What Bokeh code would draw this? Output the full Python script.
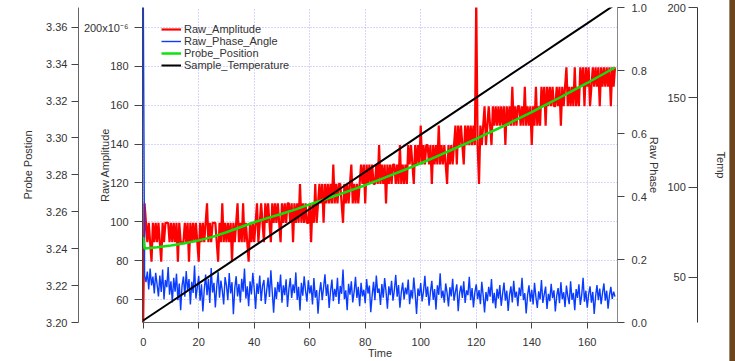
import numpy as np
from bokeh.plotting import figure
from bokeh.models import (Range1d, LinearAxis, FixedTicker, CustomJSTickFormatter,
                          Legend, LegendItem, Div)
from bokeh.layouts import row
from bokeh.embed import file_html
from bokeh.resources import INLINE

# ---------------------------------------------------------------- data
# sampling interval of the lock-in channels (minutes)
sample_step = 0.5

# Raw_Amplitude in units of 1e-6 (quantised read-out, flips between adjacent levels)
raw_amplitude_e6 = [
    48.5, 109.5,
    99.5, 89.5, 99.5, 89.5, 79.5, 99.5, 89.5, 99.5, 89.5, 99.5,
    89.5, 79.5, 99.5, 89.5, 99.5, 99.5, 99.5, 89.5, 99.5, 89.5,
    99.5, 89.5, 99.5, 79.5, 99.5, 89.5, 89.5, 89.5, 99.5, 89.5,
    99.5, 79.5, 99.5, 89.5, 99.5, 89.5, 99.5, 89.5, 79.5, 99.5,
    89.5, 99.5, 89.5, 99.5, 109.5, 89.5, 99.5, 89.5, 99.5, 99.5,
    99.5, 89.5, 79.5, 99.5, 89.5, 109.5, 89.5, 99.5, 89.5, 99.5,
    89.5, 99.5, 79.5, 99.5, 89.5, 99.5, 109.5, 89.5, 99.5, 89.5,
    109.5, 89.5, 99.5, 89.5, 79.5, 99.5, 89.5, 99.5, 89.5,
    99.5, 109.5, 89.5, 99.5, 109.5, 99.5, 89.5, 109.5, 99.5, 109.5, 99.5, 89.5, 109.5,
    99.5, 109.5, 99.5, 109.5, 99.5, 89.5, 109.5, 99.5, 109.5, 99.5,
    109.5, 109.5, 99.5, 109.5, 89.5, 109.5, 99.5, 109.5, 99.5, 119.5,
    99.5, 109.5, 99.5, 109.5, 99.5, 99.5, 109.5, 89.5, 109.5, 99.5,
    119.5, 99.5,
    109.5, 119.5, 109.5, 119.5, 99.5, 119.5, 109.5, 119.5, 109.5, 119.5,
    109.5, 129.5, 109.5, 119.5, 109.5, 119.5, 119.5, 109.5, 99.5, 119.5,
    109.5, 119.5, 109.5, 119.5, 129.5, 109.5, 119.5, 109.5, 119.5, 109.5,
    119.5,
    129.5, 119.5, 129.5, 109.5, 129.5, 119.5, 129.5, 119.5, 129.5, 119.5,
    119.5, 129.5, 119.5, 139.5, 119.5, 129.5, 119.5, 129.5, 109.5, 129.5,
    119.5, 129.5, 119.5, 129.5, 129.5, 119.5, 129.5, 119.5, 139.5, 119.5,
    129.5, 119.5, 129.5, 119.5,
    139.5, 129.5, 139.5, 129.5, 119.5, 139.5, 129.5, 139.5, 129.5, 149.5,
    129.5, 139.5, 129.5, 139.5, 139.5, 129.5, 139.5, 119.5, 139.5, 129.5,
    139.5, 129.5, 149.5, 129.5, 139.5, 129.5, 139.5, 129.5, 119.5, 139.5,
    129.5, 139.5, 129.5, 139.5, 149.5, 129.5,
    149.5, 139.5, 149.5, 139.5, 129.5, 149.5, 139.5, 149.5, 139.5, 149.5,
    139.5, 149.5, 139.5, 215.0, 139.5, 119.5,
    149.5, 139.5, 149.5, 159.5, 139.5, 149.5, 159.5, 149.5, 139.5, 159.5,
    149.5, 159.5, 149.5, 159.5,
    149.5, 159.5, 149.5, 159.5, 139.5, 159.5, 149.5, 159.5, 149.5, 169.5,
    149.5, 159.5, 149.5, 159.5, 159.5, 149.5, 159.5, 149.5, 169.5, 149.5,
    159.5, 149.5, 159.5, 139.5, 159.5, 149.5, 169.5, 149.5, 159.5, 149.5,
    169.5, 159.5, 169.5, 149.5, 169.5, 159.5, 169.5, 159.5, 169.5, 159.5,
    159.5, 169.5, 159.5, 169.5, 149.5, 169.5, 159.5, 169.5, 179.5, 159.5,
    169.5, 159.5, 169.5, 159.5, 179.5, 159.5, 169.5, 159.5,
    179.5, 169.5, 179.5, 159.5, 179.5, 169.5, 179.5, 159.5, 169.5, 179.5,
    169.5, 179.5, 169.5, 179.5, 159.5, 179.5, 169.5, 179.5, 169.5, 179.5,
    169.5, 179.5, 159.5, 179.5, 169.5, 179.5,
]

# Raw_Phase_Angle (same sampling)
raw_phase_angle = [
    1.100, 0.150, 0.128, 0.162, 0.105, 0.171, 0.118, 0.146, 0.092, 0.158,
    0.121, 0.083, 0.149, 0.097, 0.168, 0.074, 0.135, 0.112, 0.176, 0.088,
    0.131, 0.064, 0.142, 0.098, 0.155, 0.071, 0.124, 0.039, 0.117, 0.146,
    0.082, 0.163, 0.101, 0.138, 0.057, 0.129, 0.094, 0.181, 0.076, 0.112,
    0.148, 0.069, 0.121, 0.035, 0.104, 0.152, 0.087, 0.139, 0.062, 0.173,
    0.095, 0.126, 0.048, 0.114, 0.161, 0.079, 0.133, 0.101, 0.057, 0.144,
    0.118, 0.071, 0.157, 0.092, 0.128, 0.026, 0.109, 0.147, 0.083, 0.122,
    0.064, 0.139, 0.098, 0.171, 0.076, 0.115, 0.052, 0.131, 0.089, 0.158,
    0.107, 0.043, 0.124, 0.091, 0.149, 0.068, 0.117, 0.135, 0.059, 0.102,
    0.143, 0.081, 0.166, 0.097, 0.031, 0.112, 0.074, 0.129, 0.096, 0.152,
    0.063, 0.118, 0.087, 0.137, 0.049, 0.106, 0.141, 0.078, 0.121, 0.093,
    0.159, 0.072, 0.113, 0.038, 0.126, 0.085, 0.147, 0.101, 0.066, 0.134,
    0.092, 0.118, 0.057, 0.141, 0.079, 0.103, 0.028, 0.095, 0.128, 0.071,
    0.112, 0.153, 0.084, 0.121, 0.046, 0.099, 0.136, 0.068, 0.107, 0.081,
    0.142, 0.059, 0.116, 0.091, 0.168, 0.074, 0.102, 0.039, 0.123, 0.088,
    0.131, 0.064, 0.097, 0.145, 0.078, 0.113, 0.052, 0.126, 0.083, 0.104,
    0.061, 0.138, 0.092, 0.117, 0.033, 0.086, 0.129, 0.071, 0.149, 0.094,
    0.108, 0.056, 0.122, 0.079, 0.141, 0.098, 0.044, 0.115, 0.087, 0.132,
    0.069, 0.103, 0.151, 0.082, 0.119, 0.047, 0.096, 0.127, 0.073, 0.111,
    0.089, 0.136, 0.058, 0.104, 0.076, 0.143, 0.091, 0.027, 0.108, 0.084,
    0.125, 0.067, 0.099, 0.148, 0.081, 0.114, 0.053, 0.097, 0.132, 0.072,
    0.106, 0.041, 0.118, 0.088, 0.156, 0.077, 0.101, 0.063, 0.124, 0.094,
    0.051, 0.112, 0.083, 0.139, 0.069, 0.098, 0.121, 0.036, 0.093, 0.117,
    0.078, 0.131, 0.062, 0.102, 0.087, 0.145, 0.071, 0.109, 0.048, 0.096,
    0.121, 0.074, 0.103, 0.058, 0.129, 0.086, 0.032, 0.097, 0.068, 0.113,
    0.082, 0.138, 0.061, 0.094, 0.045, 0.107, 0.076, 0.119, 0.053, 0.091,
    0.127, 0.069, 0.101, 0.037, 0.088, 0.115, 0.064, 0.132, 0.079, 0.098,
    0.052, 0.111, 0.084, 0.142, 0.071, 0.093, 0.029, 0.087, 0.118, 0.066,
    0.104, 0.057, 0.126, 0.081, 0.046, 0.099, 0.073, 0.135, 0.062, 0.089,
    0.114, 0.043, 0.091, 0.068, 0.123, 0.077, 0.102, 0.035, 0.085, 0.109,
    0.061, 0.128, 0.074, 0.096, 0.049, 0.117, 0.083, 0.058, 0.131, 0.072,
    0.094, 0.039, 0.106, 0.078, 0.121, 0.056, 0.087, 0.142, 0.066, 0.101,
    0.047, 0.089, 0.115, 0.063, 0.097, 0.027, 0.082, 0.119, 0.071, 0.108,
    0.058, 0.093, 0.124, 0.069, 0.101, 0.044, 0.086, 0.113, 0.075, 0.098,
    0.082,
]

# Probe_Position (slowly sampled)
probe_time = [0, 0.5, 5, 10, 15, 20, 25, 30, 35, 40, 45, 50, 55, 60, 65, 70, 75, 80,
              85, 90, 95, 100, 105, 110, 115, 120, 125, 130, 135, 140, 145, 150, 155,
              160, 165, 170]
probe_position = [3.2463, 3.2401, 3.2408, 3.2417, 3.2429, 3.2445, 3.2464, 3.2489,
                  3.2516, 3.2543, 3.2567, 3.2589, 3.2613, 3.2640, 3.2665, 3.2691,
                  3.2717, 3.2744, 3.2773, 3.2803, 3.2832, 3.2863, 3.2895, 3.2928,
                  3.2961, 3.2995, 3.3031, 3.3066, 3.3103, 3.3140, 3.3179, 3.3218,
                  3.3258, 3.3298, 3.3340, 3.3382]

# Sample_Temperature
temp_time = [0, 10, 20, 30, 40, 50, 60, 70, 80, 90, 100, 110, 120, 130, 140, 150, 160, 170]
sample_temperature = [25.9, 36.2, 46.6, 56.9, 67.3, 77.6, 88.0, 98.3, 108.7, 119.0,
                      129.4, 139.7, 150.0, 160.4, 170.7, 181.1, 191.4, 201.8]

time_ticks = [0, 20, 40, 60, 80, 100, 120, 140, 160]
amp_ticks = [60, 80, 100, 120, 140, 160, 180, 200]
probe_ticks = [3.20, 3.22, 3.24, 3.26, 3.28, 3.30, 3.32, 3.34, 3.36]
phase_ticks = [0.0, 0.2, 0.4, 0.6, 0.8, 1.0]
temp_ticks = [50, 100, 150, 200]

amp_time = np.arange(len(raw_amplitude_e6)) * sample_step
phase_time = np.arange(len(raw_phase_angle)) * sample_step

# ---------------------------------------------------------------- styling
FONT = "Liberation Sans"
TXT = "#333333"
FS = "11px"

p = figure(width=729, height=361, output_backend="svg", toolbar_location=None,
           x_range=Range1d(-0.25, 170.9), y_range=Range1d(48.2, 210.3),
           min_border_left=142, min_border_right=112, min_border_top=7,
           min_border_bottom=39)
p.outline_line_color = None
p.background_fill_color = "white"
p.border_fill_color = "white"

p.extra_y_ranges = {
    "probe": Range1d(3.2, 3.3707),
    "phase": Range1d(0.0, 1.0),
    "temp": Range1d(24.8, 200.2),
}


def style_axis(ax, ticks):
    ax.ticker = FixedTicker(ticks=ticks)
    ax.minor_tick_line_color = None
    ax.major_label_text_font = FONT
    ax.major_label_text_font_size = FS
    ax.major_label_text_color = TXT
    ax.axis_label_text_font = FONT
    ax.axis_label_text_font_size = FS
    ax.axis_label_text_font_style = "normal"
    ax.axis_label_text_color = TXT
    ax.major_tick_line_color = "#444444"
    ax.axis_line_color = "#666666"
    ax.major_tick_in = 0
    ax.major_tick_out = 7


def gap_axis(width_standoff, range_name):
    """Blank axis used only to open space between two stacked axes."""
    ax = LinearAxis(y_range_name=range_name, ticker=FixedTicker(ticks=[]),
                    axis_label=" ", axis_label_standoff=width_standoff)
    ax.axis_line_color = None
    ax.major_tick_line_color = None
    ax.minor_tick_line_color = None
    ax.major_tick_out = 0
    ax.major_tick_in = 0
    ax.major_label_standoff = 0
    ax.axis_label_text_font_size = FS
    ax.axis_label_text_font = FONT
    return ax


# time axis
xa = p.xaxis[0]
style_axis(xa, time_ticks)
xa.axis_label = "Time"
xa.major_tick_out = 6
xa.major_label_standoff = 9
xa.axis_label_standoff = -2

# raw amplitude (inner left); its title sits over the tick-label column
ya = p.yaxis[0]
style_axis(ya, amp_ticks)
ya.major_tick_out = 8
ya.major_label_standoff = 6
ya.axis_label = "Raw Amplitude"
ya.axis_label_standoff = -30
ya.axis_line_color = "#444444"
ya.formatter = CustomJSTickFormatter(
    code="return tick == 200 ? '200x10\u207b\u2076' : tick.toFixed(0);")
p.add_layout(gap_axis(2, "probe"), "left")

# probe position (outer left)
probe_axis = LinearAxis(y_range_name="probe", axis_label="Probe Postion")
style_axis(probe_axis, probe_ticks)
probe_axis.major_label_standoff = 4
probe_axis.axis_label_standoff = 9
probe_axis.formatter = CustomJSTickFormatter(code="return tick.toFixed(2);")
p.add_layout(probe_axis, "left")

# raw phase (inner right)
phase_axis = LinearAxis(y_range_name="phase", axis_label="Raw Phase")
style_axis(phase_axis, phase_ticks)
phase_axis.major_label_standoff = 7
phase_axis.axis_label_standoff = -2
phase_axis.axis_line_color = "#888888"
phase_axis.formatter = CustomJSTickFormatter(code="return tick.toFixed(1);")
p.add_layout(phase_axis, "right")
p.add_layout(gap_axis(20, "phase"), "right")

# temperature (outer right, ticks and labels turned inward)
temp_axis = LinearAxis(y_range_name="temp", axis_label="Temp")
style_axis(temp_axis, temp_ticks)
temp_axis.major_tick_out = 0
temp_axis.major_tick_in = 9
temp_axis.major_label_standoff = -30
temp_axis.axis_label_standoff = 26
temp_axis.axis_line_color = "#333333"
temp_axis.formatter = CustomJSTickFormatter(
    code="return (tick < 100 ? '\u2007' : '') + tick.toFixed(0);")
p.add_layout(temp_axis, "right")

# dotted grid
for g in (p.xgrid[0], p.ygrid[0]):
    g.grid_line_color = "#9a9aff"
    g.grid_line_dash = "1 2"
    g.grid_line_alpha = 0.8
    g.grid_line_width = 1

# ---------------------------------------------------------------- traces
r_amp = p.line(amp_time, raw_amplitude_e6, line_color="#ff0000", line_width=2.2)
r_phase = p.line(phase_time, raw_phase_angle, line_color="#0a3cff", line_width=1.4,
                 y_range_name="phase")
r_probe = p.line(probe_time, probe_position, line_color="#10e010", line_width=2.5,
                 y_range_name="probe")
r_temp = p.line(temp_time, sample_temperature, line_color="black", line_width=2,
                y_range_name="temp")

legend = Legend(items=[
    LegendItem(label="Raw_Amplitude", renderers=[r_amp]),
    LegendItem(label="Raw_Phase_Angle", renderers=[r_phase]),
    LegendItem(label="Probe_Position", renderers=[r_probe]),
    LegendItem(label="Sample_Temperature", renderers=[r_temp]),
], location=(19, 251))
legend.label_text_font = FONT
legend.label_text_font_size = FS
legend.label_text_color = TXT
legend.glyph_width = 20
legend.glyph_height = 10
legend.label_height = 10
legend.label_standoff = 3
legend.spacing = 0
legend.padding = 0
legend.margin = 0
legend.background_fill_alpha = 0
legend.border_line_alpha = 0
p.add_layout(legend)

edge = Div(width=6, height=361, margin=0,
           styles={"background-color": "#6b4520", "border-left": "1px solid #9a8a70"})

layout = row(p, edge)
open("out.html", "w").write(file_html(layout, INLINE))
